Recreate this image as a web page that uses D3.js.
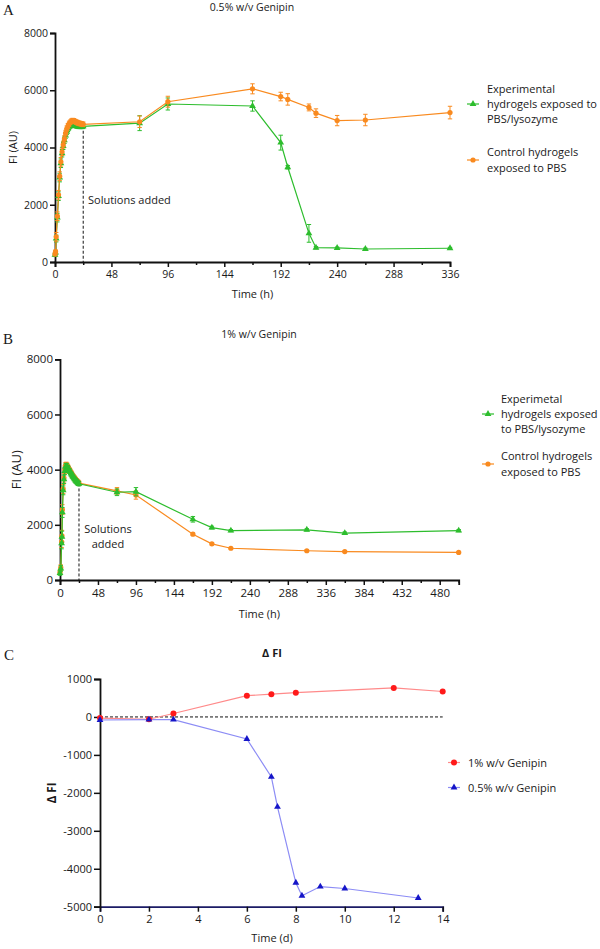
<!DOCTYPE html>
<html><head><meta charset="utf-8">
<script src="https://cdn.jsdelivr.net/npm/d3@7"></script>
<style>
body{margin:0;background:#fff}
svg{display:block}
text{font-family:"Open Sans",sans-serif;fill:#1a1a1a}
</style>
</head><body>
<svg id="c" width="600" height="949"></svg>
<script>
// ---------- Panel A data (0.5% w/v Genipin) ----------
const timeA = [0,0.5,1,2,3,4,5,6,7,8,9,10,11,12,13,14,15,16,17,18,19,20,21,22,23,24,72,96,168,192,198,216,222,240,264,336];
const expA = [250,330,820,1550,2300,2950,3450,3800,4050,4250,4420,4550,4650,4720,4760,4780,4790,4780,4770,4760,4750,4740,4740,4740,4740,4740,4850,5520,5450,4170,3310,1000,500,490,455,480];
const expAErr = [60,60,120,150,150,150,150,130,120,110,100,100,90,90,80,80,80,80,80,80,80,80,80,80,80,80,260,210,180,260,60,310,40,30,30,30];
const ctrlA = [280,360,880,1600,2350,3000,3500,3850,4100,4300,4500,4650,4750,4830,4880,4920,4940,4930,4910,4890,4870,4850,4840,4830,4820,4810,4900,5600,6050,5780,5680,5400,5200,4940,4960,5220];
const ctrlAErr = [60,60,150,150,150,150,150,130,120,110,100,100,90,90,80,80,80,80,80,80,80,80,80,80,80,80,200,190,175,150,200,120,150,180,200,220];

// ---------- Panel B data (1% w/v Genipin) ----------
const timeB = [0,1,2,2.5,3,4,5,6,7,8,9,10,11,12,13,14,15,16,17,18,19,20,21,22,23,24,72,96,168,192,216,312,360,504];
const expB = [250,420,1330,1570,2450,3250,3650,3950,4100,4130,4110,4060,4010,3960,3910,3860,3810,3760,3720,3680,3640,3600,3570,3540,3510,3490,3180,3200,2200,1900,1790,1820,1700,1790];
const expBErr = [80,100,200,200,180,160,150,130,110,100,100,90,90,80,80,80,80,80,80,80,80,80,80,80,80,80,120,150,100,50,40,40,40,40];
const ctrlB = [280,450,1380,1600,2550,3300,3700,4000,4150,4170,4140,4090,4040,3990,3940,3890,3840,3790,3750,3710,3670,3630,3600,3570,3540,3510,3230,3080,1660,1310,1150,1060,1030,1000];
const ctrlBErr = [80,100,200,200,180,160,150,130,110,100,100,90,90,80,80,80,80,80,80,80,80,80,80,80,80,80,120,150,40,40,30,30,30,30];

// ---------- Panel C data (Δ FI) ----------
const daysRed = [0,2,3,6,7,8,12,14];
const dfiRed = [-30,-60,90,560,600,640,765,670];
const daysBlue = [0,2,3,6,7,7.25,8,8.25,9,10,13];
const dfiBlue = [-80,-70,-70,-580,-1580,-2370,-4370,-4710,-4470,-4520,-4770];

// ---------- Tick labels / texts ----------
const fiTicks = [0,2000,4000,6000,8000];
const dfiTicks = [-5000,-4000,-3000,-2000,-1000,0,1000];
const legendA = [["Experimental","hydrogels exposed to","PBS/lysozyme"],["Control hydrogels","exposed to PBS"]];
const legendB = [["Experimetal","hydrogels exposed","to PBS/lysozyme"],["Control hydrogels","exposed to PBS"]];
const legendC = ["1% w/v Genipin","0.5% w/v Genipin"];

const GREEN = '#2dbd2d', ORANGE = '#f98a1f';
const svg = d3.select('#c');
const tri = d3.symbol().type(d3.symbolTriangle).size(20);
const plain = d => String(d);

function fiPanel(o){
  const x = d3.scaleLinear().domain([0,o.xMax]).range([o.left,o.right]);
  const y = d3.scaleLinear().domain([0,8000]).range([o.bottom,o.top]);
  const g = svg.append('g');
  g.append('text').attr('x',o.letterX).attr('y',o.letterY).text(o.letter)
    .style('font-family','"Liberation Serif",serif').style('font-size','15px');
  g.append('text').attr('x',o.titleX).attr('y',o.titleY).attr('text-anchor','middle')
    .style('font-size','10.5px').text(o.title);
  const xa = d3.axisBottom(x).tickValues(d3.range(0,o.xMax+1,24))
    .tickFormat(d=> d%48===0 ? String(d) : '').tickSize(5).tickPadding(4);
  const xg = g.append('g').attr('transform',`translate(0,${o.bottom})`).call(xa);
  xg.selectAll('.tick line').attr('y2',d=> d%48===0?5:3);
  const ya = d3.axisLeft(y).tickValues(fiTicks).tickFormat(plain).tickSize(5).tickPadding(2);
  const yg = g.append('g').attr('transform',`translate(${o.left},0)`).call(ya);
  [xg,yg].forEach(a=>{
    a.select('.domain').attr('stroke','#111').attr('stroke-width',1.8);
    a.selectAll('.tick line').attr('stroke','#111').attr('stroke-width',1.5);
    a.selectAll('.tick text').style('font-size',o.tickFont).style('font-family','"Open Sans",sans-serif').attr('fill','#1a1a1a');
  });
  g.append('text').attr('x',(o.left+o.right)/2).attr('y',o.xLabelY).attr('text-anchor','middle')
    .style('font-size','11px').text('Time (h)');
  g.append('text').attr('transform',`translate(${o.yLabelX},${(o.top+o.bottom)/2}) rotate(-90)`)
    .attr('text-anchor','middle').style('font-size',o.yLabelFont).text('FI (AU)');
  g.append('line').attr('x1',x(24)).attr('x2',x(24)).attr('y1',y(o.dashTop)).attr('y2',y(0))
    .attr('stroke','#111').attr('stroke-width',1).attr('stroke-dasharray','3,2');
  const st = g.append('text').style('font-size','11px');
  o.solText.forEach((t,i)=> st.append('tspan').attr('x',o.solX).attr('y',o.solY+i*14.5)
      .attr('text-anchor',o.solAnchor).text(t));
  const drawSeries = (vals,errs,color,shape)=>{
    const pts = o.time.map((t,i)=>({t,v:vals[i],e:errs[i]}));
    const s = g.append('g');
    pts.forEach(p=>{
      s.append('line').attr('x1',x(p.t)).attr('x2',x(p.t)).attr('y1',y(p.v-p.e)).attr('y2',y(p.v+p.e))
        .attr('stroke',color).attr('stroke-width',1);
      [p.v-p.e,p.v+p.e].forEach(v=> s.append('line').attr('x1',x(p.t)-2.2).attr('x2',x(p.t)+2.2)
        .attr('y1',y(v)).attr('y2',y(v)).attr('stroke',color).attr('stroke-width',1));
    });
    s.append('path').datum(pts).attr('fill','none').attr('stroke',color).attr('stroke-width',1.2)
      .attr('d',d3.line().x(d=>x(d.t)).y(d=>y(d.v)));
    pts.forEach(p=>{
      if(shape==='tri') s.append('path').attr('d',tri).attr('transform',`translate(${x(p.t)},${y(p.v)})`).attr('fill',color);
      else s.append('circle').attr('cx',x(p.t)).attr('cy',y(p.v)).attr('r',2.6).attr('fill',color);
    });
  };
  if(o.greenTop){ drawSeries(o.ctrl,o.ctrlErr,ORANGE,'circ'); drawSeries(o.exp,o.expErr,GREEN,'tri'); }
  else { drawSeries(o.exp,o.expErr,GREEN,'tri'); drawSeries(o.ctrl,o.ctrlErr,ORANGE,'circ'); }
  const lg = g.append('g');
  o.legend.forEach((lines,k)=>{
    const color = k===0?GREEN:ORANGE;
    const my = o.legY[k];
    lg.append('line').attr('x1',o.legLineX).attr('x2',o.legLineX+12).attr('y1',my).attr('y2',my)
      .attr('stroke',color).attr('stroke-width',1.2);
    if(k===0) lg.append('path').attr('d',tri).attr('transform',`translate(${o.legLineX+6},${my})`).attr('fill',color);
    else lg.append('circle').attr('cx',o.legLineX+6).attr('cy',my).attr('r',2.6).attr('fill',color);
    const t = lg.append('text').style('font-size','11px');
    const n = lines.length;
    lines.forEach((s,i)=> t.append('tspan').attr('x',o.legTextX)
      .attr('y',my + 4 + (i-(n-1)/2)*15.2).text(s));
  });
}

fiPanel({letter:'A',letterX:3,letterY:15,title:'0.5% w/v Genipin',titleX:252,titleY:11,
  left:55,right:450,top:33,bottom:262,xMax:336,tickFont:'10.5px',xLabelY:298,yLabelX:17,yLabelFont:'11px',
  time:timeA,exp:expA,expErr:expAErr,ctrl:ctrlA,ctrlErr:ctrlAErr,greenTop:false,dashTop:4760,
  solText:['Solutions added'],solX:88,solY:204,solAnchor:'start',
  legend:legendA,legY:[104,160],legLineX:467,legTextX:487});

fiPanel({letter:'B',letterX:3,letterY:344,title:'1% w/v Genipin',titleX:259,titleY:338,
  left:60,right:458.7,top:359.3,bottom:580,xMax:504,tickFont:'11.5px',xLabelY:618,yLabelX:21,yLabelFont:'13px',
  time:timeB,exp:expB,expErr:expBErr,ctrl:ctrlB,ctrlErr:ctrlBErr,greenTop:true,dashTop:3500,
  solText:['Solutions','added'],solX:108,solY:533,solAnchor:'middle',
  legend:legendB,legY:[414,464],legLineX:482,legTextX:501});

// ---------- Panel C ----------
(function(){
  const left=100,right=442.7,top=679,bottom=906.7;
  const x = d3.scaleLinear().domain([0,14]).range([left,right]);
  const y = d3.scaleLinear().domain([-5000,1000]).range([bottom,top]);
  const g = svg.append('g');
  g.append('text').attr('x',4).attr('y',660).text('C')
    .style('font-family','"Liberation Serif",serif').style('font-size','15px');
  g.append('text').attr('x',272).attr('y',657).attr('text-anchor','middle')
    .style('font-size','11px').style('font-weight','bold').text('Δ FI');
  const xg = g.append('g').attr('transform',`translate(0,${bottom})`)
    .call(d3.axisBottom(x).tickValues(d3.range(0,15,2)).tickFormat(plain).tickSize(5).tickPadding(4));
  const yg = g.append('g').attr('transform',`translate(${left},0)`)
    .call(d3.axisLeft(y).tickValues(dfiTicks).tickFormat(plain).tickSize(6).tickPadding(2));
  [xg,yg].forEach(a=>{
    a.select('.domain').attr('stroke','#111').attr('stroke-width',1.8);
    a.selectAll('.tick line').attr('stroke','#111').attr('stroke-width',1.5);
    a.selectAll('.tick text').style('font-size','11px').style('font-family','"Open Sans",sans-serif').attr('fill','#1a1a1a');
  });
  xg.select('.domain').attr('stroke','#1c1c66');
  g.append('text').attr('x',272).attr('y',942).attr('text-anchor','middle').style('font-size','11px').text('Time (d)');
  g.append('text').attr('transform',`translate(56,${(top+bottom)/2}) rotate(-90)`).attr('text-anchor','middle')
    .style('font-size','11.5px').style('font-weight','bold').text('Δ FI');
  g.append('line').attr('x1',left).attr('x2',right).attr('y1',y(0)).attr('y2',y(0))
    .attr('stroke','#111').attr('stroke-width',1).attr('stroke-dasharray','3,2');
  const line = d3.line().x(d=>x(d[0])).y(d=>y(d[1]));
  const red = daysRed.map((d,i)=>[d,dfiRed[i]]);
  const blue = daysBlue.map((d,i)=>[d,dfiBlue[i]]);
  g.append('path').datum(red).attr('fill','none').attr('stroke','#ff8a8a').attr('stroke-width',1.2).attr('d',line);
  g.append('path').datum(blue).attr('fill','none').attr('stroke','#8c8cf5').attr('stroke-width',1.2).attr('d',line);
  red.forEach(p=> g.append('circle').attr('cx',x(p[0])).attr('cy',y(p[1])).attr('r',3).attr('fill','#ff1a1a'));
  blue.forEach(p=> g.append('path').attr('d',tri).attr('transform',`translate(${x(p[0])},${y(p[1])})`).attr('fill','#1515c8'));
  const ly=[762.5,787.5];
  legendC.forEach((s,k)=>{
    g.append('line').attr('x1',448).attr('x2',460).attr('y1',ly[k]).attr('y2',ly[k])
      .attr('stroke',k===0?'#ff8a8a':'#8c8cf5').attr('stroke-width',1.2);
    if(k===0) g.append('circle').attr('cx',454).attr('cy',ly[k]).attr('r',3).attr('fill','#ff1a1a');
    else g.append('path').attr('d',tri).attr('transform',`translate(454,${ly[k]})`).attr('fill','#1515c8');
    g.append('text').attr('x',468).attr('y',ly[k]+4).style('font-size','11px').text(s);
  });
})();
</script>
</body></html>
